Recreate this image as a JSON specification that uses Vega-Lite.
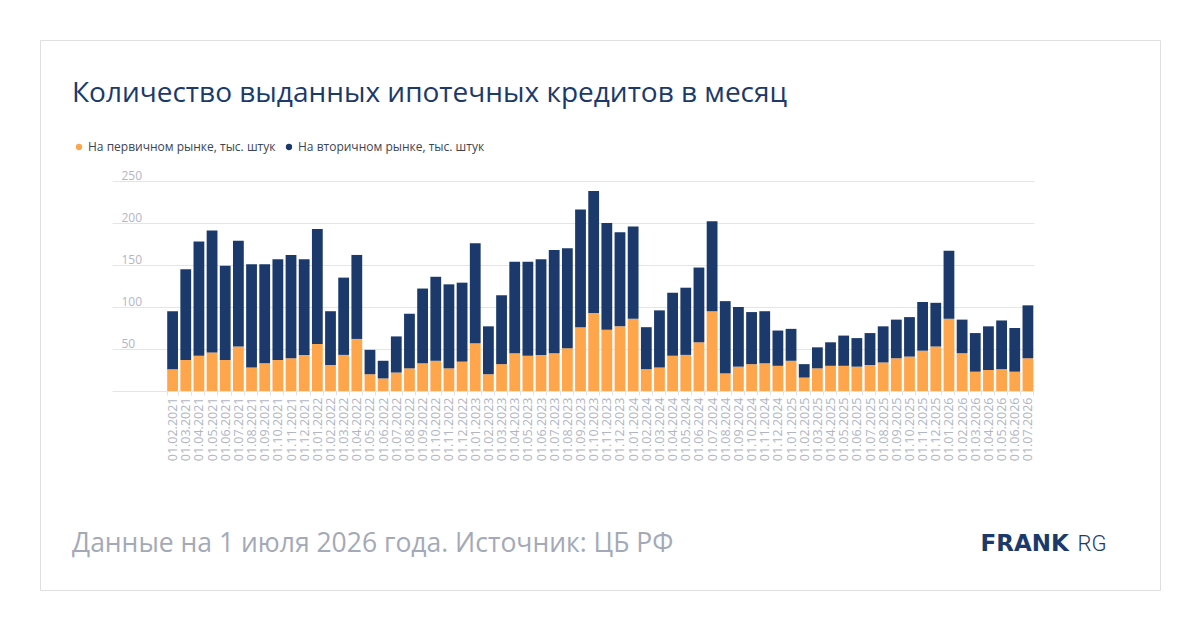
{
  "$schema": "https://vega.github.io/schema/vega-lite/v6.json",
  "width": 1120,
  "height": 550,
  "autosize": {"type": "none"},
  "padding": {"left": 40, "top": 40, "right": 40, "bottom": 40},
  "background": "#ffffff",
  "title": {
    "text": "Количество выданных ипотечных кредитов в месяц",
    "subtitle": "Данные на 1 июля 2026 года. Источник: ЦБ РФ",
    "anchor": "start",
    "frame": "group",
    "dx": 32,
    "offset": -517,
    "font": "Open Sans",
    "fontSize": 28,
    "fontWeight": "normal",
    "color": "#1b3a6b",
    "subtitleFont": "Open Sans",
    "subtitleFontSize": 26.5,
    "subtitleColor": "#a4a9b7",
    "subtitlePadding": 423
  },
  "data": {
    "values": [
      {"d": "01.02.2021", "primary": 26, "secondary": 69},
      {"d": "01.03.2021", "primary": 37, "secondary": 108},
      {"d": "01.04.2021", "primary": 42, "secondary": 136},
      {"d": "01.05.2021", "primary": 46, "secondary": 145},
      {"d": "01.06.2021", "primary": 37, "secondary": 112},
      {"d": "01.07.2021", "primary": 53, "secondary": 126},
      {"d": "01.08.2021", "primary": 28, "secondary": 123},
      {"d": "01.09.2021", "primary": 33, "secondary": 118},
      {"d": "01.10.2021", "primary": 37, "secondary": 120},
      {"d": "01.11.2021", "primary": 39, "secondary": 123},
      {"d": "01.12.2021", "primary": 43, "secondary": 114},
      {"d": "01.01.2022", "primary": 56, "secondary": 137},
      {"d": "01.02.2022", "primary": 31, "secondary": 64},
      {"d": "01.03.2022", "primary": 43, "secondary": 92},
      {"d": "01.04.2022", "primary": 62, "secondary": 100},
      {"d": "01.05.2022", "primary": 20, "secondary": 29},
      {"d": "01.06.2022", "primary": 15, "secondary": 21},
      {"d": "01.07.2022", "primary": 22, "secondary": 43},
      {"d": "01.08.2022", "primary": 27, "secondary": 65},
      {"d": "01.09.2022", "primary": 33, "secondary": 89},
      {"d": "01.10.2022", "primary": 36, "secondary": 100},
      {"d": "01.11.2022", "primary": 27, "secondary": 100},
      {"d": "01.12.2022", "primary": 35, "secondary": 94},
      {"d": "01.01.2023", "primary": 57, "secondary": 119},
      {"d": "01.02.2023", "primary": 20, "secondary": 57},
      {"d": "01.03.2023", "primary": 32, "secondary": 82},
      {"d": "01.04.2023", "primary": 45, "secondary": 109},
      {"d": "01.05.2023", "primary": 42, "secondary": 112},
      {"d": "01.06.2023", "primary": 43, "secondary": 114},
      {"d": "01.07.2023", "primary": 45, "secondary": 123},
      {"d": "01.08.2023", "primary": 51, "secondary": 119},
      {"d": "01.09.2023", "primary": 76, "secondary": 140},
      {"d": "01.10.2023", "primary": 93, "secondary": 145},
      {"d": "01.11.2023", "primary": 73, "secondary": 127},
      {"d": "01.12.2023", "primary": 77, "secondary": 112},
      {"d": "01.01.2024", "primary": 86, "secondary": 110},
      {"d": "01.02.2024", "primary": 26, "secondary": 50},
      {"d": "01.03.2024", "primary": 28, "secondary": 68},
      {"d": "01.04.2024", "primary": 42, "secondary": 75},
      {"d": "01.05.2024", "primary": 43, "secondary": 80},
      {"d": "01.06.2024", "primary": 58, "secondary": 89},
      {"d": "01.07.2024", "primary": 95, "secondary": 107},
      {"d": "01.08.2024", "primary": 21, "secondary": 86},
      {"d": "01.09.2024", "primary": 29, "secondary": 71},
      {"d": "01.10.2024", "primary": 32, "secondary": 62},
      {"d": "01.11.2024", "primary": 33, "secondary": 62},
      {"d": "01.12.2024", "primary": 30, "secondary": 42},
      {"d": "01.01.2025", "primary": 36, "secondary": 38},
      {"d": "01.02.2025", "primary": 16, "secondary": 16},
      {"d": "01.03.2025", "primary": 27, "secondary": 25},
      {"d": "01.04.2025", "primary": 30, "secondary": 28},
      {"d": "01.05.2025", "primary": 30, "secondary": 36},
      {"d": "01.06.2025", "primary": 29, "secondary": 34},
      {"d": "01.07.2025", "primary": 31, "secondary": 38},
      {"d": "01.08.2025", "primary": 34, "secondary": 43},
      {"d": "01.09.2025", "primary": 39, "secondary": 46},
      {"d": "01.10.2025", "primary": 41, "secondary": 47},
      {"d": "01.11.2025", "primary": 48, "secondary": 58},
      {"d": "01.12.2025", "primary": 53, "secondary": 52},
      {"d": "01.01.2026", "primary": 86, "secondary": 81},
      {"d": "01.02.2026", "primary": 45, "secondary": 40},
      {"d": "01.03.2026", "primary": 23, "secondary": 46},
      {"d": "01.04.2026", "primary": 25, "secondary": 52},
      {"d": "01.05.2026", "primary": 26, "secondary": 58},
      {"d": "01.06.2026", "primary": 23, "secondary": 52},
      {"d": "01.07.2026", "primary": 39, "secondary": 63}
    ]
  },
  "transform": [
    {"fold": ["primary", "secondary"], "as": ["market", "value"]}
  ],
  "mark": {"type": "bar"},
  "encoding": {
    "x": {
      "field": "d",
      "type": "ordinal",
      "sort": null,
      "title": "RG",
      "scale": {"range": [127.2, 993.3], "paddingInner": 0.18, "paddingOuter": 0},
      "axis": {
        "offset": -199,
        "domain": false,
        "grid": false,
        "labelAngle": -90,
        "labelFont": "Open Sans",
        "labelFontSize": 12.5,
        "labelColor": "#b1b5c3",
        "labelPadding": 2,
        "tickBand": "extent",
        "tickSize": 4,
        "tickColor": "#e0e2eb",
        "titleX": 1037,
        "titleY": 159,
        "titleAlign": "left",
        "titleAnchor": null,
        "titleBaseline": "alphabetic",
        "titleFont": "Roboto",
        "titleFontWeight": 300,
        "titleFontSize": 22,
        "titleColor": "#1b3a6b"
      }
    },
    "y": {
      "field": "value",
      "type": "quantitative",
      "stack": "zero",
      "title": "FRANK",
      "scale": {"domain": [-236.9, 417.9], "nice": false, "zero": false},
      "axis": {
        "orient": "right",
        "offset": -126,
        "values": [0, 50, 100, 150, 200, 250],
        "domain": false,
        "grid": false,
        "tickSize": -922,
        "tickColor": "#e2e4ee",
        "tickWidth": 1,
        "labelAlign": "left",
        "labelBaseline": "alphabetic",
        "labelOffset": -2,
        "labelPadding": 9,
        "labelFont": "Open Sans",
        "labelFontSize": 12,
        "labelColor": "#b3b6c4",
        "labelExpr": "datum.value == 0 ? '' : datum.label",
        "titleAngle": 0,
        "titleX": -54,
        "titleY": 510,
        "titleAlign": "left",
        "titleAnchor": null,
        "titleBaseline": "alphabetic",
        "titleFont": "DejaVu Sans",
        "titleFontWeight": "bold",
        "titleFontSize": 23,
        "titleColor": "#1b3a6b"
      }
    },
    "color": {
      "field": "market",
      "type": "nominal",
      "scale": {"domain": ["primary", "secondary"], "range": ["#ffa64d", "#1b3a6b"]},
      "legend": {
        "title": null,
        "orient": "none",
        "direction": "horizontal",
        "legendX": 33,
        "legendY": 101,
        "symbolType": "circle",
        "symbolSize": 40,
        "labelOffset": 3,
        "labelLimit": 0,
        "columnPadding": 7,
        "padding": 0,
        "labelFont": "Open Sans",
        "labelFontSize": 12,
        "labelColor": "#3d4452",
        "labelExpr": "datum.value == 'primary' ? 'На первичном рынке, тыс. штук' : 'На вторичном рынке, тыс. штук'"
      }
    },
    "order": {"field": "market", "sort": "ascending"}
  },
  "config": {
    "view": {"stroke": "#dfdfdf", "strokeWidth": 1},
    "font": "Open Sans"
  }
}
